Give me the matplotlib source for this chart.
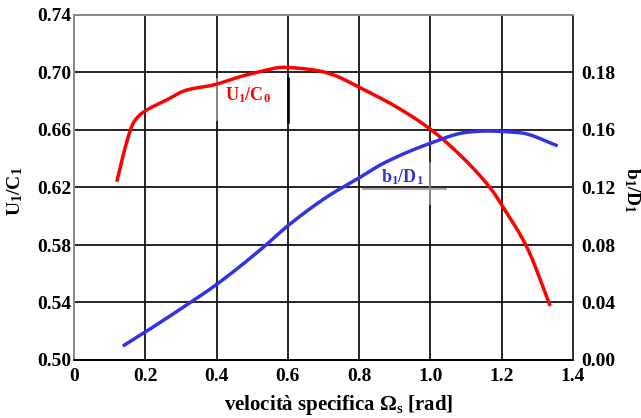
import matplotlib
matplotlib.use("Agg")
import matplotlib.pyplot as plt
import numpy as np

plt.rcParams['font.family'] = ['Liberation Serif', 'DejaVu Serif']
plt.rcParams['font.weight'] = 'bold'
plt.rcParams['axes.labelweight'] = 'bold'
plt.rcParams['mathtext.fontset'] = 'custom'
plt.rcParams['mathtext.rm'] = 'Liberation Serif:bold'
plt.rcParams['mathtext.it'] = 'Liberation Serif:bold'
plt.rcParams['mathtext.bf'] = 'Liberation Serif:bold'

# Specific speed (rad) and U1/C0 ratio (left axis)
omega_u = [0.12, 0.143, 0.166, 0.18, 0.194, 0.26, 0.316, 0.391, 0.466, 0.522, 0.587,
           0.634, 0.69, 0.728, 0.798, 0.905, 0.999, 1.083, 1.176, 1.2, 1.27, 1.336]
u1_c0 = [0.624, 0.6473, 0.6647, 0.6693, 0.6723, 0.6809, 0.6878, 0.6913, 0.6971, 0.7006,
         0.7036, 0.7029, 0.701, 0.6983, 0.690, 0.676, 0.6607, 0.6426, 0.617, 0.6078,
         0.5788, 0.5376]

# Specific speed (rad) and b1/D1 ratio (right axis)
omega_b = [0.137, 0.197, 0.316, 0.398, 0.531, 0.599, 0.718, 0.798, 0.868, 0.999,
           1.102, 1.158, 1.251, 1.357]
b1_d1 = [0.0097, 0.019, 0.0383, 0.0522, 0.0784, 0.0932, 0.1148, 0.1264, 0.1368, 0.1507,
         0.1584, 0.1593, 0.1581, 0.149]

x_ticks = [0, 0.2, 0.4, 0.6, 0.8, 1.0, 1.2, 1.4]
x_tick_labels = ['0', '0.2', '0.4', '0.6', '0.8', '1.0', '1.2', '1.4']
left_ticks = [0.50, 0.54, 0.58, 0.62, 0.66, 0.70, 0.74]
left_tick_labels = ['0.50', '0.54', '0.58', '0.62', '0.66', '0.70', '0.74']
right_ticks = [0.00, 0.04, 0.08, 0.12, 0.16, 0.20]
right_tick_labels = ['0.00', '0.04', '0.08', '0.12', '0.16', '0.18']


def smooth(x, y, n=400):
    # monotone cubic (PCHIP-like) interpolation for a smooth drawn curve
    x = np.asarray(x, float)
    y = np.asarray(y, float)
    h = np.diff(x)
    d = np.diff(y) / h
    m = np.zeros_like(y)
    for i in range(1, len(y) - 1):
        if d[i - 1] * d[i] > 0:
            w1 = 2 * h[i] + h[i - 1]
            w2 = h[i] + 2 * h[i - 1]
            m[i] = (w1 + w2) / (w1 / d[i - 1] + w2 / d[i])
    m[0] = d[0]
    m[-1] = d[-1]
    xs = np.linspace(x[0], x[-1], n)
    idx = np.clip(np.searchsorted(x, xs) - 1, 0, len(x) - 2)
    t = (xs - x[idx]) / h[idx]
    h00 = 2 * t**3 - 3 * t**2 + 1
    h10 = t**3 - 2 * t**2 + t
    h01 = -2 * t**3 + 3 * t**2
    h11 = t**3 - t**2
    ys = h00 * y[idx] + h10 * h[idx] * m[idx] + h01 * y[idx + 1] + h11 * h[idx] * m[idx + 1]
    return xs, ys


fig = plt.figure(figsize=(6.41, 4.18), dpi=100)
ax = fig.add_axes([74 / 641, 58 / 418, 499 / 641, 345 / 418])
ax2 = ax.twinx()

ax.set_xlim(0, 1.4)
ax.set_ylim(0.50, 0.74)
ax2.set_ylim(0.0, 0.24)

ax.set_xticks(x_ticks)
ax.set_xticklabels(x_tick_labels)
ax.set_yticks(left_ticks)
ax.set_yticklabels(left_tick_labels)
ax2.set_yticks(right_ticks)
ax2.set_yticklabels(right_tick_labels)

ax.grid(True, color='black', linewidth=1.2)
ax.set_axisbelow(True)
ax.tick_params(axis='x', length=0, labelsize=14, pad=6)
ax.tick_params(axis='y', length=0, labelsize=14, pad=2)
ax2.tick_params(axis='y', length=0, labelsize=14, pad=6)

for a in (ax, ax2):
    a.spines['left'].set_color('#8a8a8a')
    a.spines['top'].set_color('#8a8a8a')
    a.spines['right'].set_color('#333333')
    a.spines['bottom'].set_color('black')
    for s in a.spines.values():
        s.set_linewidth(1.3)

xr, yr = smooth(omega_u, u1_c0)
ax.plot(xr, yr, color='#ff0000', linewidth=2.5, solid_capstyle='butt', zorder=3)
xb, yb = smooth(omega_b, b1_d1)
ax2.plot(xb, yb, color='#3333e6', linewidth=2.5, solid_capstyle='butt', zorder=3)

# leader marks beside the curve labels
ax.plot([0.4, 0.4], [0.667, 0.6955], color='#999999', linewidth=1.2, zorder=2)
ax.plot([0.6, 0.6], [0.6656, 0.6962], color='black', linewidth=1.8, zorder=2)
ax.plot([0.81, 1.044], [0.619, 0.619], color='#999999', linewidth=1.2, zorder=2)
ax.plot([1.0, 1.0], [0.6085, 0.637], color='#999999', linewidth=1.2, zorder=2)

ax.text(0.425, 0.684, r'U$_1$/C$_0$', color='#ff0000', fontsize=13,
        ha='left', va='center')
ax2.text(0.862, 0.1275, r'b$_1$/D$_1$', color='#3333cc', fontsize=13,
         ha='left', va='center')

ax.set_xlabel(r'velocità specifica $\Omega_s$ [rad]', fontsize=15,
              fontweight='bold')
ax.xaxis.set_label_coords(265 / 499, -33 / 345)
fig.text(15 / 641, 1 - 191 / 418, r'U$_1$/C$_1$', rotation=90, fontsize=14,
         ha='center', va='center')
fig.text(632 / 641, 1 - 190 / 418, r'b$_1$/D$_1$', rotation=270, fontsize=14,
         ha='center', va='center')

fig.savefig('out.png', dpi=100)
